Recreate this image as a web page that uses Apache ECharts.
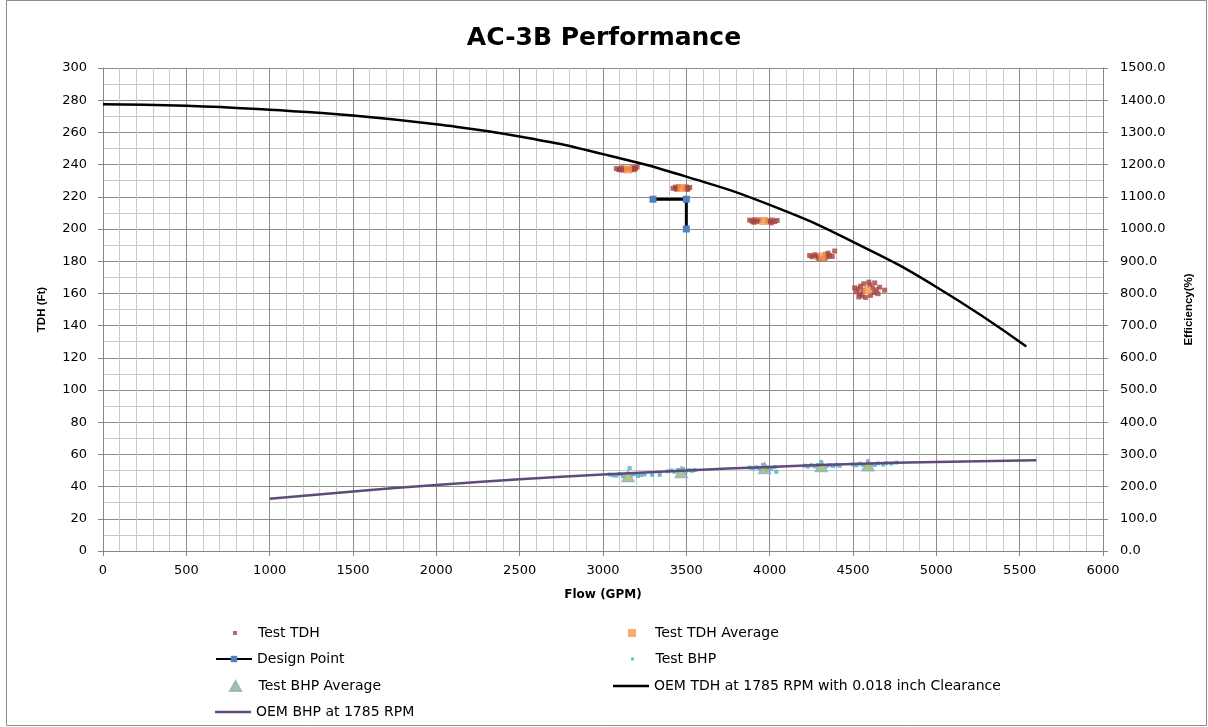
<!DOCTYPE html>
<html>
<head>
<meta charset="utf-8">
<script src="https://cdn.jsdelivr.net/npm/echarts@6/dist/echarts.min.js"></script>
<style>html,body{margin:0;padding:0;background:#fff}#c{width:1208px;height:727px}</style>
</head>
<body>
<div id="c"></div>
<script>
// ---- Data ----
const title = 'AC-3B Performance';
const xTicks = { min: 0, max: 6000, interval: 500 };
const yLeftTicks = { min: 0, max: 300, interval: 20 };
const yRightTicks = { min: 0, max: 1500, interval: 100 };

const testTDH = [
  [3080,237.5],[3095,237],[3100,236.8],[3110,238],[3120,236.5],[3135,237.5],[3165,237],[3175,238],[3185,236.8],[3190,237.9],[3195,237.6],[3205,238.6],
  [3420,225.3],[3435,226],[3440,224.8],[3445,225],[3455,226.3],[3490,225.4],[3500,226.1],[3505,224.6],[3510,225],[3520,225.8],
  [3880,205.5],[3895,204.8],[3905,204.2],[3910,205.8],[3925,204.5],[3940,205.6],[3985,205.2],[4000,204.4],[4010,203.8],[4015,205.6],[4030,204.6],[4045,205.3],
  [4240,183.5],[4255,182.8],[4270,184],[4285,183.3],[4290,182],[4300,181.5],[4330,181.8],[4335,184.2],[4345,182.6],[4350,185],[4360,183.6],[4375,182.9],[4390,186.3],
  [4510,163.5],[4520,161],[4530,162.8],[4535,157.8],[4540,159.5],[4545,164.5],[4555,158.5],[4560,161.8],[4565,166],[4575,157.5],[4595,167],[4600,165.2],[4605,158.8],[4615,163.5],[4625,160.5],[4630,166.5],[4640,162.3],[4650,159.8],[4660,163.8],[4690,162]
];
const testTDHAvg = [[3150,237],[3470,225.5],[3965,205],[4315,183],[4585,162]];
const designPoint = [[3300,218.5],[3500,218.5],[3500,200]];
const testBHP = [
  [3040,47.5],[3060,47],[3080,46.8],[3100,47.8],[3120,46.5],[3160,51.5],[3175,47.4],[3190,47.8],[3210,46.6],[3230,47.2],[3250,47.6],[3295,47.3],[3340,47.3],
  [3390,49.5],[3410,50],[3430,49.2],[3450,50.3],[3480,51],[3495,49.3],[3515,50.2],[3535,49.8],[3550,50.3],
  [3880,51.8],[3900,51.3],[3920,52],[3940,51],[3960,53.5],[3985,50.6],[3990,51.9],[4010,51.2],[4030,52.2],[4040,49.2],
  [4210,53],[4230,52.4],[4250,53.3],[4270,52.6],[4290,53.4],[4310,55.1],[4340,52.7],[4360,53.4],[4380,52.8],[4400,53.5],[4420,52.9],
  [4500,53.8],[4520,53.2],[4540,54.2],[4560,53.5],[4590,55.6],[4610,54.1],[4630,53.4],[4650,54.4],[4680,53.7],[4700,54.6],[4730,54.3],[4760,54.9]
];
const testBHPAvg = [[3150,46.5],[3470,49],[3970,51.5],[4310,52.8],[4590,53.3]];
const oemTDHFlow = [0,500,1000,1500,2000,2500,3000,3500,4000,4500,5000,5540];
const oemTDHHead = [277.5,276.5,274,270.5,265,257.5,246.5,232.5,215,192,164,127];
const oemBHPFlow = [1000,1500,2000,2500,3000,3500,4000,4500,5000,5600];
const oemBHPPower = [32.5,37,41,44.5,47.5,50,52.2,54,55.3,56.3];

const names = ['Test TDH','Test TDH Average','Design Point','Test BHP','Test BHP Average',
  'OEM TDH at 1785 RPM with 0.018 inch Clearance','OEM BHP at 1785 RPM'];

// ---- Chart ----
const F = 'DejaVu Sans';
const zip = (a,b) => a.map((v,i)=>[v,b[i]]);
const chart = echarts.init(document.getElementById('c'), null, {renderer:'canvas'});
const sq = 'path://M0,0H10V10H0Z';
const tri = 'path://M5,0L10,9L0,9Z';
const bar = 'path://M0,0H72V5H0Z';
function lg(name, left, cy, icon, ih) {
  const d = {name};
  if (icon) d.icon = icon;
  return { data:[d], left, top: cy-10, itemWidth: 36, itemHeight: ih,
    textStyle:{fontFamily:F, fontSize:14, color:'#000'}, selectedMode:false };
}
const rows = [631, 657, 684, 710];
chart.setOption({
  animation:false,
  backgroundColor:'#fff',
  title:{ text:title, left:'center', top:21, textStyle:{fontFamily:F, fontWeight:'bold', fontSize:25, color:'#000'} },
  graphic:[{type:'rect', shape:{x:6.5,y:0.5,width:1200,height:725}, style:{fill:'none', stroke:'#8c8c8c', lineWidth:1}, silent:true}],
  grid:{ left:103, right:105, top:68, bottom:176 },
  legend:[
    lg(names[0], 228, rows[0], sq, 4),
    lg(names[2], 210, rows[1], undefined, 8),
    lg(names[4], 224, rows[2], tri, 10),
    lg(names[6], 210, rows[3], bar, 2.5),
    lg(names[1], 623, rows[0], sq, 8),
    lg(names[3], 626, rows[1], sq, 3),
    lg(names[5], 608, rows[2], bar, 2.5)
  ],
  xAxis:{ type:'value', min:xTicks.min, max:xTicks.max, interval:xTicks.interval,
    name:'Flow (GPM)', nameLocation:'middle', nameGap:38,
    nameTextStyle:{fontFamily:F, fontWeight:'bold', fontSize:12, color:'#000'},
    axisLine:{show:true, lineStyle:{color:'#868686'}},
    axisTick:{show:true, length:5, lineStyle:{color:'#868686'}},
    axisLabel:{fontFamily:F, fontSize:13, color:'#000', margin:13, formatter:v=>String(v)},
    splitLine:{show:true, lineStyle:{color:'#8c8c8c', width:1}},
    minorTick:{show:false, splitNumber:5},
    minorSplitLine:{show:true, lineStyle:{color:'#c8c8c8', width:1}}
  },
  yAxis:[
    { type:'value', min:yLeftTicks.min, max:yLeftTicks.max, interval:yLeftTicks.interval,
      name:'TDH (Ft)', nameLocation:'middle', nameGap:55, nameRotate:90,
      nameTextStyle:{fontFamily:'Liberation Sans', fontWeight:'bold', fontSize:11.5, color:'#000'},
      axisLine:{show:true, lineStyle:{color:'#868686'}},
      axisTick:{show:true, length:5, lineStyle:{color:'#868686'}},
      axisLabel:{fontFamily:F, fontSize:13, color:'#000', margin:16, formatter:v=>String(v)},
      splitLine:{show:true, lineStyle:{color:'#8c8c8c', width:1}},
      minorTick:{show:false, splitNumber:2},
      minorSplitLine:{show:true, lineStyle:{color:'#c8c8c8', width:1}}
    },
    { type:'value', position:'right', min:yRightTicks.min, max:yRightTicks.max, interval:yRightTicks.interval,
      name:'Efficiency(%)', nameLocation:'middle', nameGap:80, nameRotate:90,
      nameTextStyle:{fontFamily:'Liberation Sans', fontWeight:'bold', fontSize:11.5, color:'#000'},
      axisLine:{show:true, lineStyle:{color:'#868686'}},
      axisTick:{show:true, length:5, lineStyle:{color:'#868686'}},
      axisLabel:{fontFamily:F, fontSize:13, color:'#000', margin:17, formatter:v=>v.toFixed(1)},
      splitLine:{show:false}
    }
  ],
  series:[
    { name:names[0], type:'scatter', data:testTDH, symbol:'rect', symbolSize:5, itemStyle:{color:'#a5433e'}, z:3 },
    { name:names[1], type:'scatter', data:testTDHAvg, symbol:'rect', symbolSize:8, itemStyle:{color:'#f79646'}, z:4 },
    { name:names[2], type:'line', data:designPoint, symbol:'rect', symbolSize:7, showSymbol:true,
      lineStyle:{color:'#000', width:3}, itemStyle:{color:'#4f81bd'}, z:5 },
    { name:names[3], type:'scatter', data:testBHP, symbol:'rect', symbolSize:4, itemStyle:{color:'#4bacc6'}, z:3 },
    { name:names[4], type:'scatter', data:testBHPAvg, symbol:tri, symbolSize:[12,11],
      itemStyle:{color:'#9bbb59', borderColor:'#8eaadb', borderWidth:1.5}, z:4 },
    { name:names[5], type:'line', data:zip(oemTDHFlow, oemTDHHead), smooth:true, symbol:'none',
      lineStyle:{color:'#000', width:2.5}, itemStyle:{color:'#000'}, z:6 },
    { name:names[6], type:'line', data:zip(oemBHPFlow, oemBHPPower), smooth:true, symbol:'none',
      lineStyle:{color:'#604a7b', width:2.5}, itemStyle:{color:'#604a7b'}, z:6 }
  ]
});
</script>
</body>
</html>
